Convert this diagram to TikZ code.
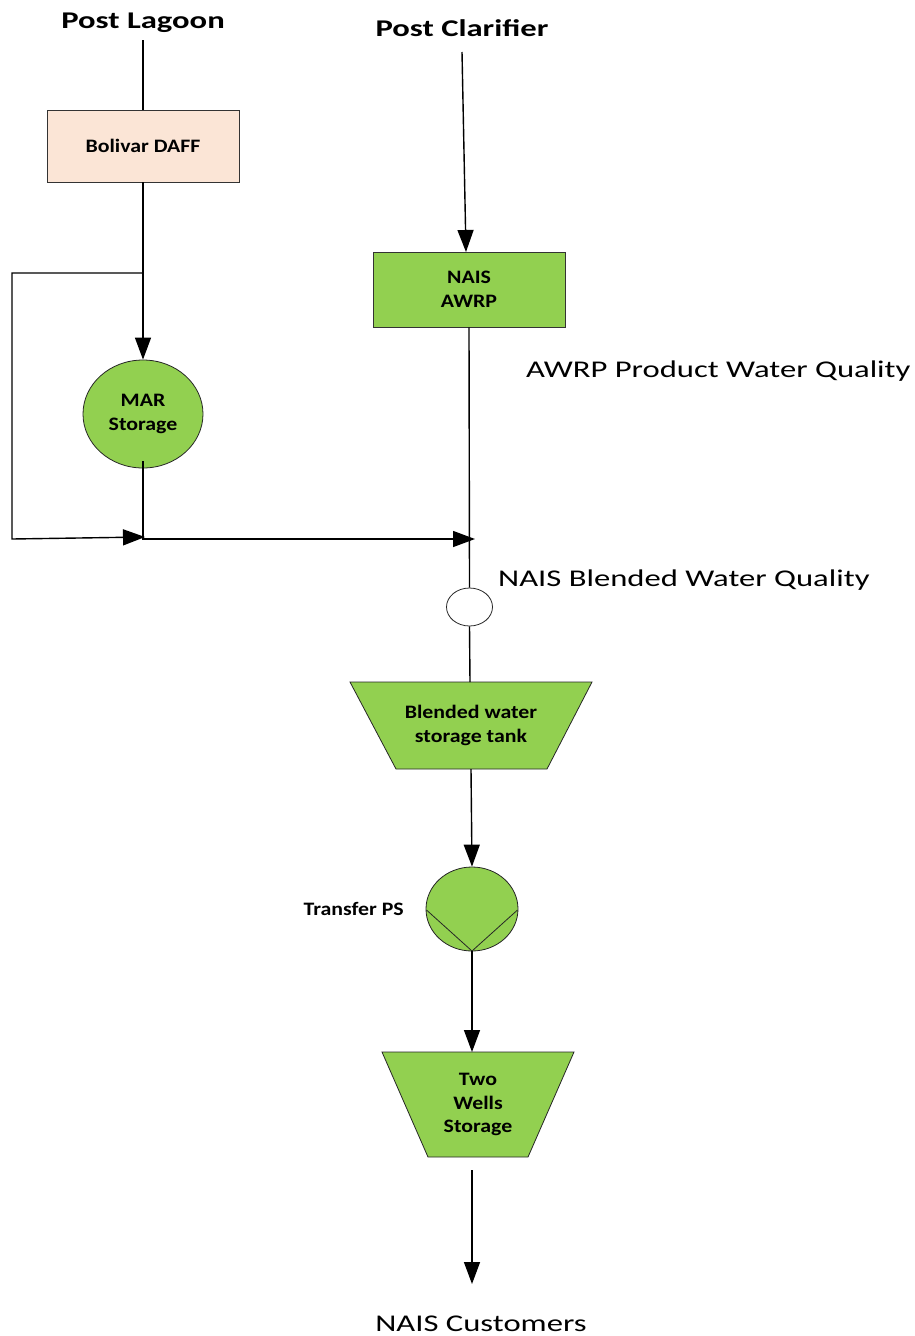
\documentclass[tikz,border=0pt]{standalone}
\usepackage{fontspec}
\setmainfont{Carlito}
\newfontfamily\titlefont[FakeStretch=1.36]{Carlito}
\newfontfamily\lblfont[FakeStretch=1.15]{Carlito}
\newfontfamily\notefont[FakeStretch=1.36]{Carlito}
\usetikzlibrary{arrows.meta,shapes.geometric}
\definecolor{grn}{HTML}{92D050}
\definecolor{peach}{HTML}{FBE5D6}
\tikzset{
  flow/.style={line width=1.4pt, black},
  arr/.style={flow, -{Triangle[length=22pt,width=16pt]}},
  boxnode/.style={draw=black!80, line width=0.8pt, minimum width=192pt, inner sep=0pt},
  lbl/.style={font=\lblfont\bfseries\fontsize{19}{23.5}\selectfont, align=center, inner sep=0pt},
  title/.style={font=\titlefont\bfseries\fontsize{24}{28}\selectfont, inner sep=0pt},
  note/.style={font=\notefont\fontsize{24}{28}\selectfont, inner sep=0pt},
  shp/.style={draw=black!85, line width=0.8pt}
}
\begin{document}
\begin{tikzpicture}[x=1pt,y=-1pt]
\useasboundingbox (0,0) rectangle (915,1336);

% titles
\node[title, anchor=base] (lagoon) at (143,28.5) {Post Lagoon};
\node[title, anchor=base] (clar) at (462,36) {Post Clarifier};
\coordinate (lagoonend) at (143,40);
\coordinate (clarend) at (462,52);

% boxes
\node[boxnode, fill=peach, minimum height=72pt, lbl] (daff) at (143,146) {Bolivar DAFF};
\node[boxnode, fill=grn, minimum height=75pt, lbl] (awrp) at (469,289.5) {NAIS\\AWRP};

% MAR storage
\node[shp, ellipse, fill=grn, minimum width=120pt, minimum height=108pt, inner sep=0pt, lbl] (mar) at (143,414) {MAR\\Storage};

% small monitoring circle
\node[shp, ellipse, fill=white, minimum width=46pt, minimum height=38pt, inner sep=0pt] (mon) at (469.5,607) {};

% blended tank (inverted trapezium)
\fill[grn] (350,682) -- (592,682) -- (547,769) -- (396,769) -- cycle;
\draw[shp] (350,682) -- (592,682) -- (547,769) -- (396,769) -- cycle;
\node[lbl, minimum width=242pt, minimum height=87pt] (tank) at (471,725.5) {Blended water\\storage tank};

% pump
\node[shp, ellipse, fill=grn, minimum width=92pt, minimum height=84pt, inner sep=0pt] (pump) at (472,909) {};
\draw[shp] (426.5,910) -- (472,951) -- (517.5,910);
\node[lbl, anchor=east] (pslbl) at (404,909) {Transfer PS};

% two wells storage
\fill[grn] (382,1052) -- (574,1052) -- (528,1157) -- (428,1157) -- cycle;
\draw[shp] (382,1052) -- (574,1052) -- (528,1157) -- (428,1157) -- cycle;
\node[lbl, minimum width=192pt, minimum height=105pt] (wells) at (478,1104.5) {Two\\Wells\\Storage};

% notes
\node[note, anchor=base west] (awrpq) at (526,377) {AWRP Product Water Quality};
\node[note, anchor=base west] (blendq) at (498,586) {NAIS Blended Water Quality};
\node[note, anchor=base] (cust) at (481,1331) {NAIS Customers};

% coordinates for connectors
\coordinate (branch) at (143,273);
\coordinate (bl) at (12,273);
\coordinate (bl2) at (12,539);
\coordinate (joinA) at (145,537);
\coordinate (marout) at (143,461);
\coordinate (marcorner) at (143,539);
\coordinate (joinB) at (475,539);
\coordinate (wellsout) at (472,1170);
\coordinate (custin) at (472,1284);

% connectors
\draw[flow] (lagoonend) -- (daff.north);
\draw[arr] (daff.south) -- (mar.north);
\draw[arr] (branch) -- (bl) -- (bl2) -- (joinA);
\draw[arr] (marout) -- (marcorner) -- (joinB);
\draw[arr] (clarend) -- (466,252);
\draw[flow] (awrp.south) -- (mon.north);
\draw[flow] (mon.south) -- (470,682);
\draw[arr] (471,769) -- (pump.north);
\draw[arr] (472,951) -- (472,1052);
\draw[arr] (wellsout) -- (custin);
\end{tikzpicture}
\end{document}
